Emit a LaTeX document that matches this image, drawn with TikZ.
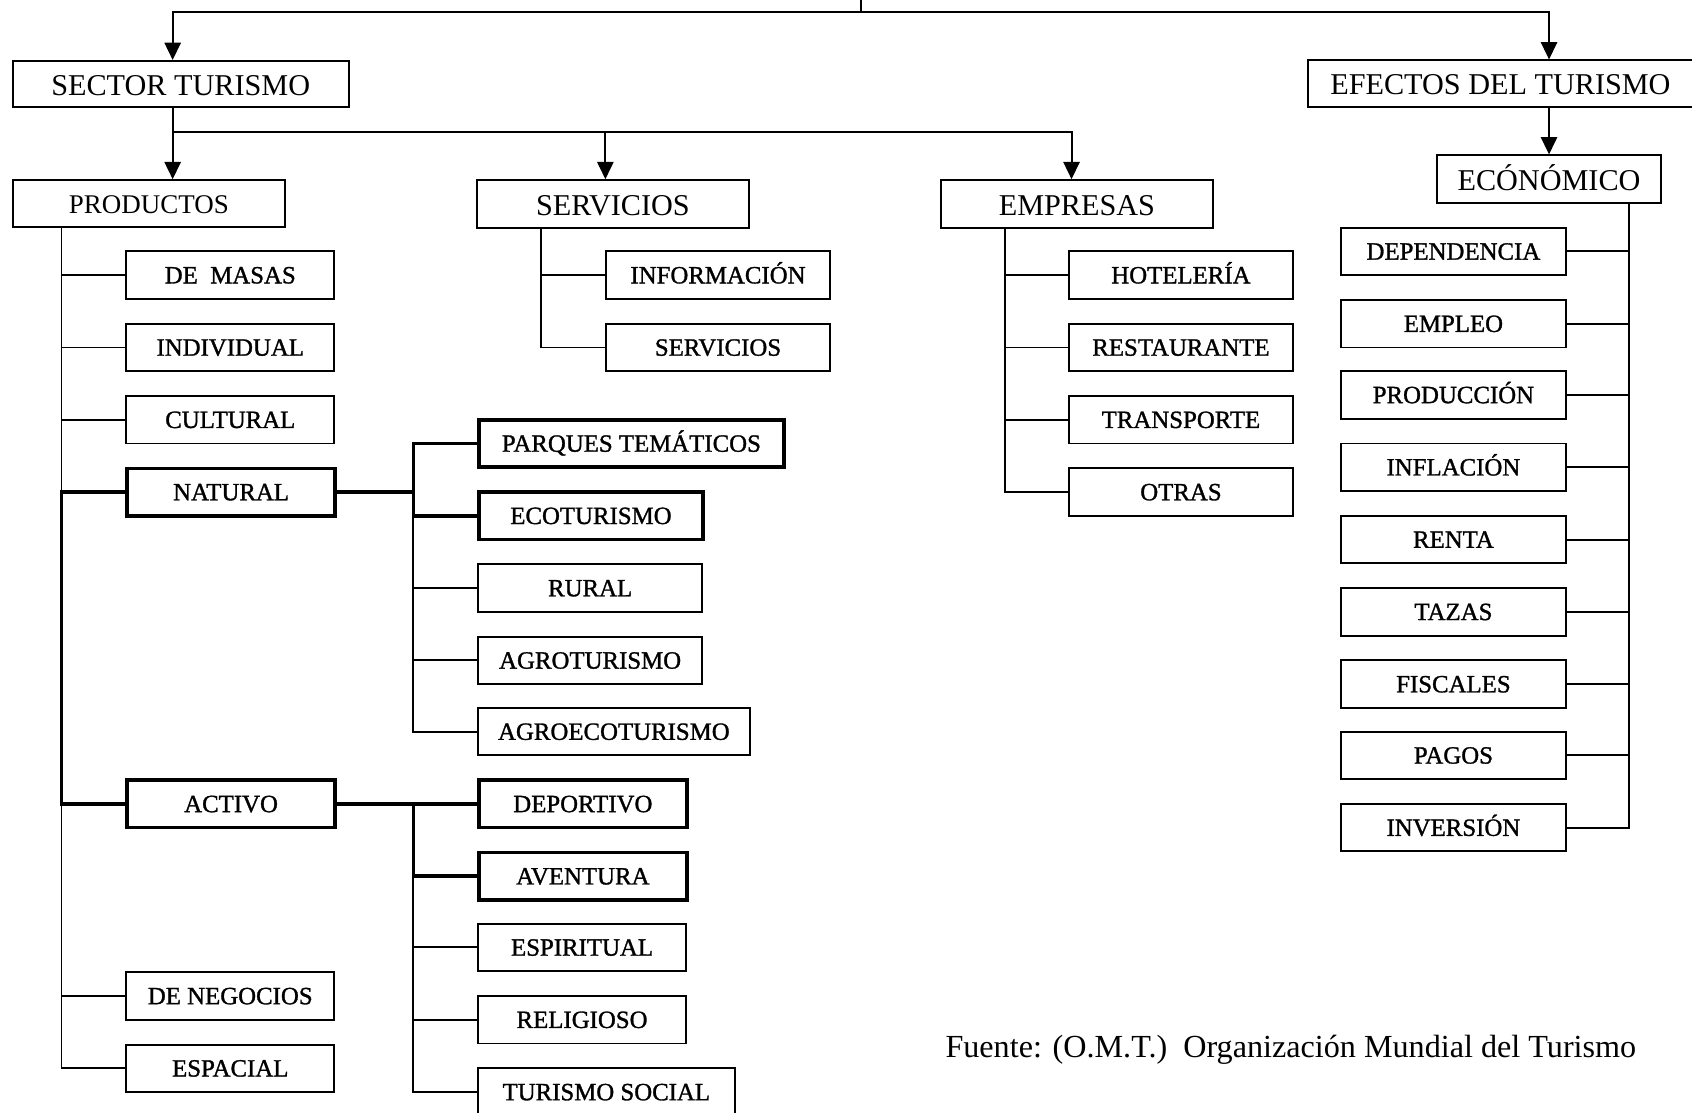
\documentclass[tikz,border=0pt]{standalone}
\usepackage{fontspec}
\setmainfont{Liberation Serif}
\newfontfamily\lblfont{Liberation Serif}[FakeBold=1.2]
\usetikzlibrary{arrows.meta}
\begin{document}
\begin{tikzpicture}[x=1pt,y=-1pt,
  ln/.style={line width=1.8pt},
  tk/.style={line width=3.3pt},
  arr/.style={line width=1.8pt,-{Triangle[width=15pt,length=16pt]}},
  box/.style={draw,line width=1.8pt,minimum height=44pt,inner sep=0pt,anchor=west,
    text height=15.2pt,text depth=0pt,font=\lblfont\fontsize{23}{27}\selectfont},
  tbox/.style={box,line width=3.3pt},
  big/.style={draw,line width=1.8pt,minimum height=43pt,inner sep=0pt,
    text height=21pt,text depth=0pt,font=\fontsize{28}{32}\selectfont}]
\clip (0,0) rectangle (1568,1031);
\useasboundingbox (0,0) rectangle (1568,1031);

% top level
\coordinate (top) at (798,0);
\coordinate (tj) at (798,11);
\node[big,minimum width=311pt] (sector) at (167.5,78) {SECTOR TURISMO};
\node[big,minimum width=357pt] (efectos) at (1390.5,77.5) {EFECTOS DEL TURISMO};
\node[big,minimum width=252pt,minimum height=43pt,font=\fontsize{25}{30}\selectfont,text height=19.5pt] (prod) at (138,188.5) {PRODUCTOS};
\node[big,minimum width=252pt,minimum height=44pt] (serv) at (568,189) {SERVICIOS};
\node[big,minimum width=252pt,minimum height=44pt] (empr) at (998,189) {EMPRESAS};
\node[big,minimum width=207pt,minimum height=44pt] (econ) at (1435.5,166) {ECÓNÓMICO};

% productos children
\node[box,minimum width=193pt] (demasas) at (116,255) {DE~\ MASAS};
\node[box,minimum width=193pt] (individual) at (116,322) {INDIVIDUAL};
\node[box,minimum width=193pt] (cultural) at (116,389) {CULTURAL};
\node[tbox,minimum width=193pt] (natural) at (116,456) {NATURAL};
\node[tbox,minimum width=193pt] (activo) at (116,745) {ACTIVO};
\node[box,minimum width=193pt] (negocios) at (116,923) {DE NEGOCIOS};
\node[box,minimum width=193pt] (espacial) at (116,990) {ESPACIAL};

% natural children
\node[tbox,minimum width=283pt] (parques) at (442,411) {PARQUES TEMÁTICOS};
\node[tbox,minimum width=208pt] (ecotur) at (442,478) {ECOTURISMO};
\node[box,minimum width=208pt] (rural) at (442,545) {RURAL};
\node[box,minimum width=208pt] (agrotur) at (442,612) {AGROTURISMO};
\node[box,minimum width=252pt] (agroeco) at (442,678) {AGROECOTURISMO};

% activo children
\node[tbox,minimum width=193pt] (deportivo) at (442,745) {DEPORTIVO};
\node[tbox,minimum width=193pt] (aventura) at (442,812) {AVENTURA};
\node[box,minimum width=193pt] (espiritual) at (442,878) {ESPIRITUAL};
\node[box,minimum width=193pt] (religioso) at (442,945) {RELIGIOSO};
\node[box,minimum width=238pt] (tsocial) at (442,1012) {TURISMO SOCIAL};

% servicios children
\node[box,minimum width=207pt] (informacion) at (561,255) {INFORMACIÓN};
\node[box,minimum width=207pt] (servicios) at (561,322) {SERVICIOS};

% empresas children
\node[box,minimum width=207pt] (hoteleria) at (990,255) {HOTELERÍA};
\node[box,minimum width=207pt] (restaurante) at (990,322) {RESTAURANTE};
\node[box,minimum width=207pt] (transporte) at (990,389) {TRANSPORTE};
\node[box,minimum width=207pt] (otras) at (990,456) {OTRAS};

% economico children
\node[box,minimum width=208pt] (dependencia) at (1242,233) {DEPENDENCIA};
\node[box,minimum width=208pt] (empleo) at (1242,300) {EMPLEO};
\node[box,minimum width=208pt] (produccion) at (1242,366) {PRODUCCIÓN};
\node[box,minimum width=208pt] (inflacion) at (1242,433) {INFLACIÓN};
\node[box,minimum width=208pt] (renta) at (1242,500) {RENTA};
\node[box,minimum width=208pt] (tazas) at (1242,567) {TAZAS};
\node[box,minimum width=208pt] (fiscales) at (1242,634) {FISCALES};
\node[box,minimum width=208pt] (pagos) at (1242,700) {PAGOS};
\node[box,minimum width=208pt] (inversion) at (1242,767) {INVERSIÓN};

\node[anchor=west,inner sep=0pt,font=\fontsize{29.8}{34}\selectfont] (fuente) at (876,973) {Fuente: (O.M.T.)\ \ Organización Mundial del Turismo};

% top connectors
\draw[ln] (top) -- (tj);
\draw[arr] (tj) -| ([xshift=-7.5pt]sector.north);
\draw[arr] (tj) -| (efectos.north -| econ.north);
\draw[arr] (efectos.south -| econ.north) -- (econ.north);

% sector to children
\coordinate (hb) at (160,122);
\draw[ln] ([xshift=-7.5pt]sector.south) -- (hb);
\draw[arr] (hb) -- (hb |- prod.north);
\draw[arr] (hb) -| ([xshift=-7pt]serv.north);
\draw[arr] (hb) -| ([xshift=-5pt]empr.north);

% productos trunk
\coordinate (px) at (57,0);
\draw[ln] (prod.south -| px) -- (px |- natural.west);
\draw[ln] (px |- activo.west) -- (px |- espacial.west) -- (espacial.west);
\draw[ln] (px |- demasas.west) -- (demasas.west);
\draw[ln] (px |- individual.west) -- (individual.west);
\draw[ln] (px |- cultural.west) -- (cultural.west);
\draw[ln] (px |- negocios.west) -- (negocios.west);
\draw[tk] (natural.west) -| (px |- activo.west) -- (activo.west);

% natural branch
\coordinate (nx) at (383,0);
\draw[tk] (natural.east) -- (nx |- natural.east);
\draw[tk] (parques.west) -| (nx |- ecotur.west) -- (ecotur.west);
\draw[ln] (nx |- ecotur.west) -- (nx |- agroeco.west) -- (agroeco.west);
\draw[ln] (nx |- rural.west) -- (rural.west);
\draw[ln] (nx |- agrotur.west) -- (agrotur.west);

% activo branch
\draw[tk] (activo.east) -- (deportivo.west);
\draw[tk] (nx |- deportivo.west) -- (nx |- aventura.west) -- (aventura.west);
\draw[ln] (nx |- aventura.west) -- (nx |- tsocial.west) -- (tsocial.west);
\draw[ln] (nx |- espiritual.west) -- (espiritual.west);
\draw[ln] (nx |- religioso.west) -- (religioso.west);

% servicios branch
\coordinate (sx) at (501,0);
\draw[ln] (serv.south -| sx) |- (informacion.west);
\draw[ln] (sx |- informacion.west) |- (servicios.west);

% empresas branch
\coordinate (ex) at (931,0);
\draw[ln] (empr.south -| ex) |- (otras.west);
\draw[ln] (ex |- hoteleria.west) -- (hoteleria.west);
\draw[ln] (ex |- restaurante.west) -- (restaurante.west);
\draw[ln] (ex |- transporte.west) -- (transporte.west);

% economico branch
\coordinate (cx) at (1510,0);
\draw[ln] (econ.south -| cx) |- (inversion.east);
\draw[ln] (dependencia.east) -- (cx |- dependencia.east);
\draw[ln] (empleo.east) -- (cx |- empleo.east);
\draw[ln] (produccion.east) -- (cx |- produccion.east);
\draw[ln] (inflacion.east) -- (cx |- inflacion.east);
\draw[ln] (renta.east) -- (cx |- renta.east);
\draw[ln] (tazas.east) -- (cx |- tazas.east);
\draw[ln] (fiscales.east) -- (cx |- fiscales.east);
\draw[ln] (pagos.east) -- (cx |- pagos.east);
\end{tikzpicture}
\end{document}
